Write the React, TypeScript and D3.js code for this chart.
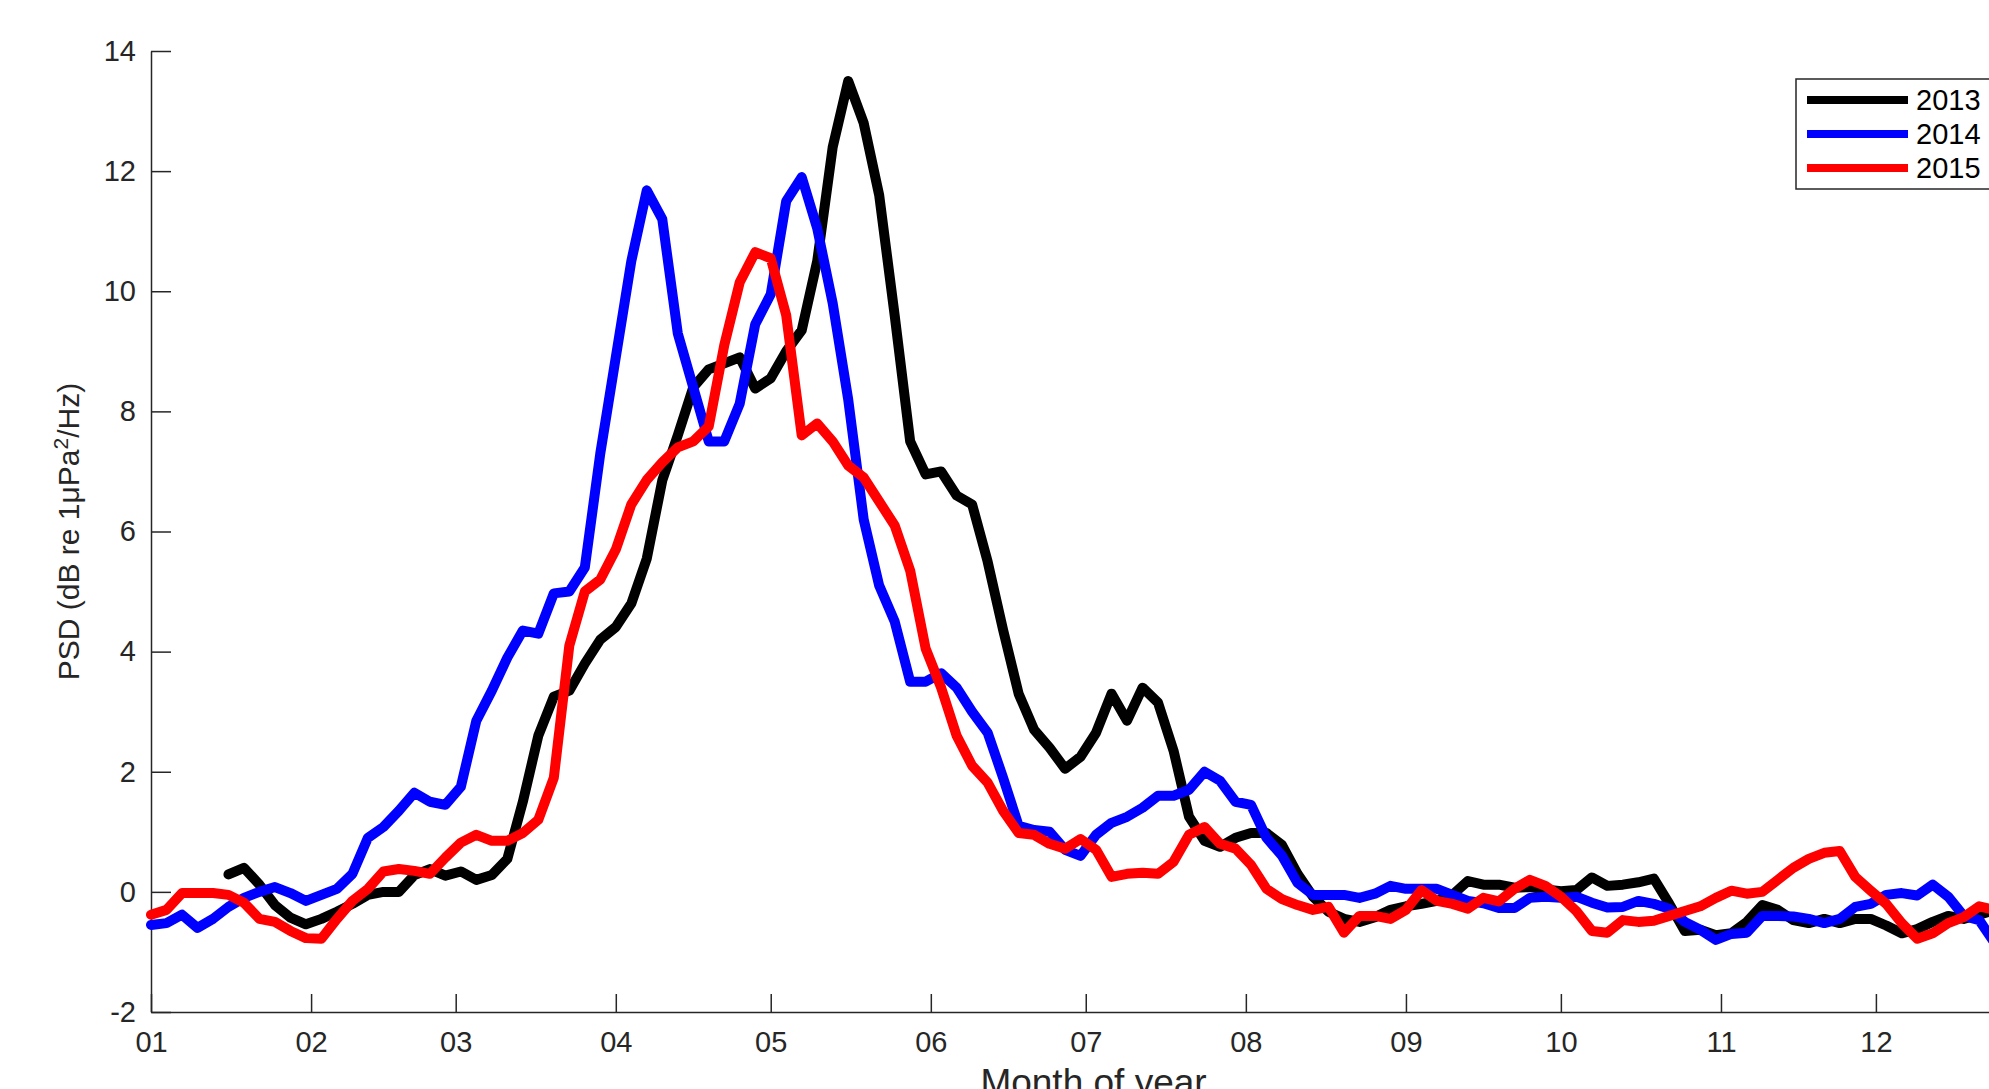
import { useRef, useEffect } from "react";
import * as d3 from "d3";

const W = 1989;
const H = 1089;
const FONT = "'Liberation Sans', Arial, Helvetica, sans-serif";

// day of year, sampled every 3 days (0 = 1 Jan)
const days = d3.range(0, 358, 3);

const monthStarts = [0, 31, 59, 90, 120, 151, 181, 212, 243, 273, 304, 334];
const monthLabels = ["01", "02", "03", "04", "05", "06", "07", "08", "09", "10", "11", "12"];
const yTicks = [-2, 0, 2, 4, 6, 8, 10, 12, 14];

const years = ["2013", "2014", "2015"];
const colors = ["#000000", "#0000ff", "#ff0000"];

const psd2013 = [
  null, null, null, null, null, 0.29, 0.4, 0.12, -0.22, -0.43,
  -0.54, -0.45, -0.33, -0.2, -0.05, 0.0, 0.0, 0.28, 0.38, 0.27,
  0.34, 0.2, 0.28, 0.55, 1.5, 2.6, 3.25, 3.35, 3.8, 4.2,
  4.41, 4.8, 5.55, 6.85, 7.6, 8.4, 8.7, 8.8, 8.9, 8.38,
  8.55, 9.0, 9.35, 10.5, 12.4, 13.5, 12.8, 11.6, 9.6, 7.5,
  6.95, 7.0, 6.6, 6.45, 5.5, 4.36, 3.3, 2.7, 2.4, 2.05,
  2.25, 2.65, 3.3, 2.85, 3.4, 3.15, 2.35, 1.25, 0.85, 0.75,
  0.9, 0.98, 0.98, 0.78, 0.3, -0.08, -0.33, -0.45, -0.5, -0.42,
  -0.3, -0.24, -0.2, -0.15, -0.05, 0.18, 0.12, 0.12, 0.07, 0.08,
  0.04, 0.01, 0.03, 0.24, 0.1, 0.12, 0.16, 0.22, -0.2, -0.65,
  -0.63, -0.72, -0.69, -0.5, -0.22, -0.3, -0.47, -0.52, -0.45, -0.52,
  -0.45, -0.45, -0.56, -0.69, -0.62, -0.5, -0.4, -0.45, -0.38, -0.3,
];

const psd2014 = [
  -0.55, -0.52, -0.38, -0.6, -0.45, -0.25, -0.1, 0.0, 0.08, -0.02,
  -0.15, -0.05, 0.05, 0.3, 0.9, 1.08, 1.35, 1.65, 1.5, 1.45,
  1.75, 2.85, 3.35, 3.9, 4.35, 4.3, 4.97, 5.0, 5.4, 7.3,
  8.9, 10.5, 11.68, 11.2, 9.3, 8.4, 7.5, 7.5, 8.13, 9.45,
  9.95, 11.5, 11.9, 11.05, 9.8, 8.2, 6.2, 5.1, 4.5, 3.5,
  3.5, 3.64, 3.4, 3.0, 2.65, 1.9, 1.1, 1.03, 1.0, 0.7,
  0.6, 0.95, 1.15, 1.25, 1.4, 1.6, 1.6, 1.7, 2.0, 1.85,
  1.5, 1.45, 0.9, 0.6, 0.15, -0.05, -0.05, -0.05, -0.1, -0.03,
  0.1, 0.05, 0.05, 0.05, -0.05, -0.15, -0.19, -0.27, -0.27, -0.1,
  -0.08, -0.1, -0.08, -0.18, -0.26, -0.25, -0.15, -0.2, -0.28, -0.5,
  -0.63, -0.8, -0.7, -0.68, -0.4, -0.4, -0.41, -0.45, -0.52, -0.45,
  -0.25, -0.2, -0.05, -0.02, -0.06, 0.12, -0.08, -0.4, -0.47, -0.85,
];

const psd2015 = [
  -0.38, -0.3, -0.02, -0.02, -0.02, -0.05, -0.18, -0.45, -0.5, -0.65,
  -0.77, -0.78, -0.45, -0.15, 0.05, 0.34, 0.38, 0.35, 0.3, 0.57,
  0.82, 0.95, 0.85, 0.85, 0.98, 1.2, 1.9, 4.1, 5.0, 5.2,
  5.7, 6.45, 6.86, 7.15, 7.4, 7.5, 7.75, 9.1, 10.15, 10.65,
  10.55, 9.6, 7.6, 7.8, 7.5, 7.1, 6.9, 6.5, 6.1, 5.35,
  4.05, 3.4, 2.6, 2.1, 1.82, 1.35, 0.98, 0.95, 0.8, 0.72,
  0.88, 0.7, 0.25, 0.3, 0.32, 0.3, 0.5, 0.95, 1.08, 0.8,
  0.72, 0.45, 0.05, -0.12, -0.22, -0.3, -0.25, -0.68, -0.4, -0.4,
  -0.45, -0.3, 0.03, -0.15, -0.2, -0.28, -0.1, -0.16, 0.05, 0.2,
  0.1, -0.08, -0.32, -0.65, -0.68, -0.47, -0.5, -0.48, -0.4, -0.32,
  -0.24, -0.1, 0.02, -0.03, 0.0, 0.2, 0.4, 0.55, 0.65, 0.68,
  0.25, 0.02, -0.2, -0.52, -0.78, -0.69, -0.52, -0.42, -0.24, -0.3,
];

const series = [psd2013, psd2014, psd2015];

export default function App() {
  const ref = useRef<SVGSVGElement>(null);

  function init() {
    const svg = d3.select(ref.current);
    svg.selectAll("*").remove();

    const x = d3.scaleLinear().domain([0, 365]).range([151, 2036]);
    const y = d3.scaleLinear().domain([-2, 14]).range([1012, 51]);

    const axisColor = "#262626";

    // Axes
    const xAxis = d3
      .axisBottom(x)
      .tickValues(monthStarts)
      .tickFormat((d, i) => monthLabels[i])
      .tickSizeInner(-18)
      .tickSizeOuter(0)
      .tickPadding(19);
    const yAxis = d3
      .axisLeft(y)
      .tickValues(yTicks)
      .tickFormat((d) => String(d))
      .tickSizeInner(-20)
      .tickSizeOuter(0)
      .tickPadding(15);

    const gx = svg
      .append("g")
      .attr("transform", `translate(0, ${y(-2)})`)
      .call(xAxis);
    const gy = svg
      .append("g")
      .attr("transform", `translate(${x(0)}, 0)`)
      .call(yAxis);

    [gx, gy].forEach((g) => {
      g.attr("font-family", FONT).attr("font-size", 29);
      g.selectAll("text").attr("fill", axisColor);
      g.selectAll("line, path")
        .attr("stroke", axisColor)
        .attr("stroke-width", 1.5);
    });

    // Axis labels
    svg
      .append("text")
      .attr("x", (x(0) + x(365)) / 2)
      .attr("y", 1095)
      .attr("text-anchor", "middle")
      .attr("font-family", FONT)
      .attr("font-size", 37)
      .attr("fill", axisColor)
      .text("Month of year");

    const yl = svg
      .append("text")
      .attr("transform", `translate(79, ${(y(-2) + y(14)) / 2}) rotate(-90)`)
      .attr("text-anchor", "middle")
      .attr("font-family", FONT)
      .attr("font-size", 30)
      .attr("fill", axisColor);
    yl.append("tspan").text("PSD (dB re 1μPa");
    yl.append("tspan").attr("dy", -11).attr("font-size", 21).text("2");
    yl.append("tspan").attr("dy", 11).text("/Hz)");

    // Data
    const line = d3
      .line<number | null>()
      .defined((d) => d !== null)
      .x((d, i) => x(days[i]))
      .y((d) => y(d as number));

    series.forEach((s, k) => {
      svg
        .append("path")
        .datum(s)
        .attr("d", line)
        .attr("fill", "none")
        .attr("stroke", colors[k])
        .attr("stroke-width", 10)
        .attr("stroke-linejoin", "round")
        .attr("stroke-linecap", "round");
    });

    // Legend
    const lg = svg.append("g");
    lg.append("rect")
      .attr("x", 1796)
      .attr("y", 79)
      .attr("width", 260)
      .attr("height", 110)
      .attr("fill", "#ffffff")
      .attr("stroke", axisColor)
      .attr("stroke-width", 1.5);
    years.forEach((yr, k) => {
      const ly = 100 + k * 34;
      lg.append("line")
        .attr("x1", 1807)
        .attr("x2", 1908)
        .attr("y1", ly)
        .attr("y2", ly)
        .attr("stroke", colors[k])
        .attr("stroke-width", 8);
      lg.append("text")
        .attr("x", 1916)
        .attr("y", ly)
        .attr("dy", "0.35em")
        .attr("font-family", FONT)
        .attr("font-size", 29)
        .attr("fill", "#000000")
        .text(yr);
    });
  }

  useEffect(init, []);

  return (
    <svg
      ref={ref}
      width={W}
      height={H}
      style={{ position: "absolute", left: 0, top: 0, display: "block", background: "#ffffff" }}
    ></svg>
  );
}
